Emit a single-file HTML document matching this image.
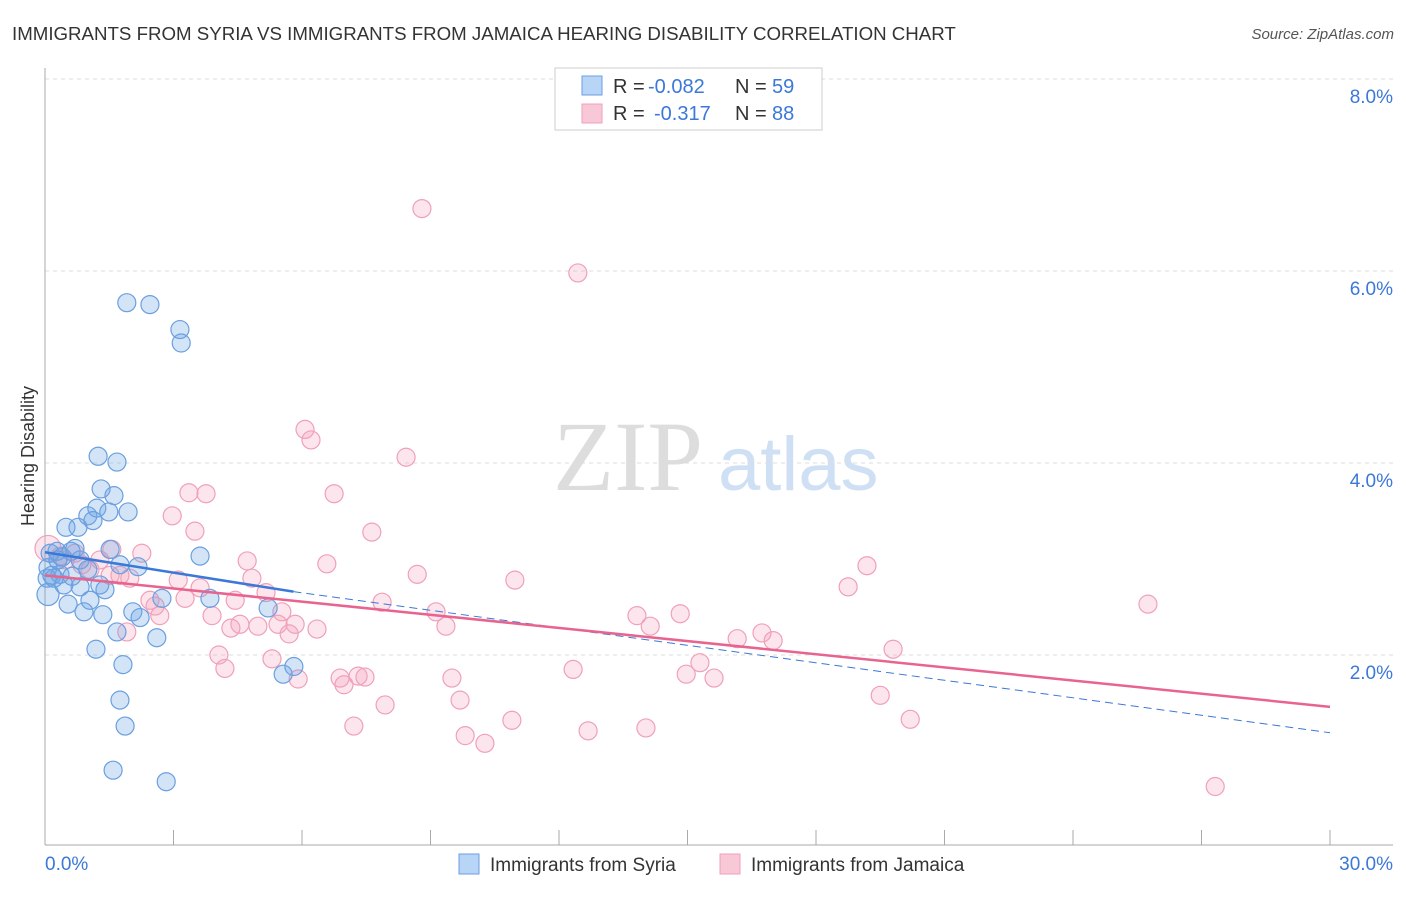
<!DOCTYPE html>
<html><head><meta charset="utf-8"><style>
body{margin:0;background:#fff;font-family:"Liberation Sans",sans-serif;}
svg text{font-family:"Liberation Sans",sans-serif;}
</style></head><body>
<svg width="1406" height="892">
<text x="12" y="40" font-size="18.7" fill="#333">IMMIGRANTS FROM SYRIA VS IMMIGRANTS FROM JAMAICA HEARING DISABILITY CORRELATION CHART</text>
<text x="1394" y="39" font-size="15" fill="#555" font-style="italic" text-anchor="end">Source: ZipAtlas.com</text>
<text x="34" y="456" font-size="18" fill="#333" transform="rotate(-90 34 456)" text-anchor="middle">Hearing Disability</text>
<text x="553" y="490" font-size="100" fill="#ddd" font-family="Liberation Serif" style="font-family:'Liberation Serif',serif">ZIP</text>
<text x="718" y="490" font-size="76" fill="#cfe0f5">atlas</text>
<g id="grid"></g>
<g id="axes"></g>
<g id="pts"></g>
<g id="lines"></g>
<g>
<rect x="555" y="68" width="267" height="62" fill="#fff" stroke="#ccc"/>
<rect x="582" y="76" width="20" height="19" fill="#b8d4f7" stroke="#6a9fe0"/>
<rect x="582" y="104" width="20" height="19" fill="#f9c8d6" stroke="#f0a0b8"/>
<text x="613" y="93" font-size="20" fill="#333">R =</text>
<text x="648" y="93" font-size="20" fill="#3b78d8">-0.082</text>
<text x="735" y="93" font-size="20" fill="#333">N =</text>
<text x="772" y="93" font-size="20" fill="#3b78d8">59</text>
<text x="613" y="120" font-size="20" fill="#333">R =</text>
<text x="654" y="120" font-size="20" fill="#3b78d8">-0.317</text>
<text x="735" y="120" font-size="20" fill="#333">N =</text>
<text x="772" y="120" font-size="20" fill="#3b78d8">88</text>
</g>
<g>
<rect x="459" y="854" width="20" height="20" fill="#b8d4f7" stroke="#6a9fe0"/>
<text x="490" y="871" font-size="19" fill="#333">Immigrants from Syria</text>
<rect x="720" y="854" width="20" height="20" fill="#f9c8d6" stroke="#f0a0b8"/>
<text x="751" y="871" font-size="19" fill="#333">Immigrants from Jamaica</text>
</g>
</svg>
<script>
const syriaX=[1.91,2.45,3.15,3.18,1.24,1.68,1.31,1.61,1.00,1.21,1.12,1.49,1.94,0.49,0.77,0.12,0.28,0.70,0.40,0.61,1.52,0.82,0.07,0.35,0.63,0.21,1.00,1.75,2.17,3.62,1.40,0.82,1.05,0.54,0.07,0.91,1.35,2.05,2.22,2.73,3.85,5.21,1.68,2.61,1.19,1.82,1.75,1.87,1.59,2.83,5.56,5.81,0.05,0.16,0.30,0.44,1.28];
const syriaY=[5.67,5.65,5.39,5.25,4.07,4.01,3.73,3.66,3.45,3.53,3.40,3.49,3.49,3.33,3.33,3.06,3.08,3.11,3.02,3.08,3.10,2.99,2.91,2.84,2.82,2.80,2.89,2.94,2.92,3.03,2.68,2.71,2.57,2.53,2.63,2.45,2.42,2.45,2.39,2.59,2.59,2.49,2.24,2.18,2.06,1.90,1.53,1.26,0.80,0.68,1.80,1.88,2.80,2.83,2.99,2.73,2.73];
const jamX=[8.80,12.44,6.07,6.21,8.43,3.36,3.76,6.75,2.97,3.50,7.63,1.56,2.26,4.72,6.58,19.19,0.35,0.70,1.28,1.05,1.75,1.98,8.69,10.97,4.83,3.11,3.62,5.16,18.75,25.75,2.45,3.27,4.44,2.57,2.68,3.90,5.53,5.84,4.55,4.34,4.97,5.44,6.35,5.70,7.87,9.13,9.36,13.82,14.13,14.83,1.91,16.16,16.74,17.00,19.80,4.06,4.20,5.30,5.91,6.89,6.98,7.31,7.47,9.50,12.33,15.29,14.97,15.62,9.69,7.94,19.50,7.21,10.90,20.20,12.68,14.03,9.81,10.27,27.32,0.07,0.47,0.86,1.52];
const jamY=[6.65,5.98,4.35,4.24,4.06,3.69,3.68,3.68,3.45,3.29,3.28,3.10,3.06,2.98,2.95,2.93,3.03,3.06,2.99,2.89,2.83,2.80,2.84,2.78,2.80,2.78,2.70,2.65,2.71,2.53,2.57,2.59,2.57,2.51,2.41,2.41,2.45,2.32,2.32,2.28,2.30,2.32,2.27,2.22,2.55,2.45,2.30,2.41,2.30,2.43,2.24,2.17,2.23,2.15,2.06,2.00,1.86,1.96,1.75,1.76,1.69,1.78,1.77,1.76,1.85,1.92,1.80,1.76,1.53,1.48,1.58,1.26,1.32,1.33,1.21,1.24,1.16,1.08,0.63,3.11,2.99,2.94,2.83];
const yTicks=[2,4,6,8];
const yTickLabels=["2.0%","4.0%","6.0%","8.0%"];
const xTickLabels=["0.0%","30.0%"];
const syriaTrend=[3.07,2.66,5.8,1.19];
const jamTrend=[2.83,1.46];
const NS="http://www.w3.org/2000/svg";
const sx=v=>45+v/30*1285, sy=v=>847-v*96;
function mk(tag,attrs,parent){const e=document.createElementNS(NS,tag);for(const k in attrs)e.setAttribute(k,attrs[k]);document.getElementById(parent).appendChild(e);return e;}
yTicks.forEach((t,i)=>{
 const l=mk('line',{x1:45,x2:1393,y1:sy(t),y2:sy(t),stroke:'#ddd','stroke-dasharray':'4,4'},'grid');
 
 
 const tx=mk('text',{x:1393,y:sy(t)+24,'font-size':19,fill:'#3b78d8','text-anchor':'end'},'axes');
 tx.textContent=yTickLabels[i];
 
 
});
const topGrid=mk('line',{x1:45,x2:1393,y1:79,y2:79,stroke:'#ddd','stroke-dasharray':'4,4'},'grid');


const ax=mk('line',{x1:45,x2:45,y1:68,y2:845,stroke:'#aaa'},'axes');


const bx=mk('line',{x1:45,x2:1393,y1:845,y2:845,stroke:'#aaa'},'axes');


for(let i=0;i<=10;i++){const t=mk('line',{x1:sx(i*3),x2:sx(i*3),y1:830,y2:845,stroke:'#aaa'},'axes');
 
 }
[[0,'start',45],[1,'end',1393]].forEach(([i,a,x])=>{const t=mk('text',{x:x,y:870,'font-size':19,fill:'#3b78d8','text-anchor':a},'axes');t.textContent=xTickLabels[i];
 
 });
jamX.forEach((x,i)=>{const c=mk('circle',{cx:sx(x),cy:sy(jamY[i]),r:i==79?13:9,fill:'rgba(244,160,188,0.28)',stroke:'#f0a0b8','stroke-width':1.2},'pts');
 
 });
syriaX.forEach((x,i)=>{const c=mk('circle',{cx:sx(x),cy:sy(syriaY[i]),r:(i==34?11:9),fill:'rgba(110,165,230,0.3)',stroke:'#6a9fe0','stroke-width':1.2},'pts');
 
 });
const l1=mk('line',{x1:sx(0),y1:sy(syriaTrend[0]),x2:sx(syriaTrend[2]),y2:sy(syriaTrend[1]),stroke:'#3b78d8','stroke-width':2.5},'lines');


const l2=mk('line',{x1:sx(syriaTrend[2]),y1:sy(syriaTrend[1]),x2:sx(30),y2:sy(syriaTrend[3]),stroke:'#3b78d8','stroke-width':1,'stroke-dasharray':'8,5'},'lines');


const l3=mk('line',{x1:sx(0),y1:sy(jamTrend[0]),x2:sx(30),y2:sy(jamTrend[1]),stroke:'#e8648e','stroke-width':2.5},'lines');


</script>
</body></html>
